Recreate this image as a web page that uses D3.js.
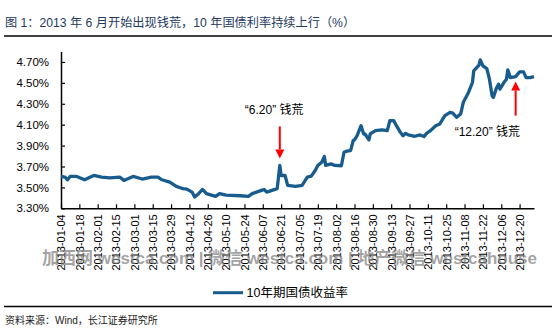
<!DOCTYPE html>
<html>
<head>
<meta charset="utf-8">
<script src="https://cdn.jsdelivr.net/npm/d3@7"></script>
<style>
  html, body { margin: 0; padding: 0; background: #fff; }
  svg { display: block; }
</style>
</head>
<body>
<svg id="chart" width="558" height="329"></svg>
<script>
// 10-year government bond yield, 2013 (%)
const dates = [
  "2013-01-04","2013-01-07","2013-01-09","2013-01-11","2013-01-16","2013-01-22","2013-01-29",
  "2013-02-04","2013-02-10","2013-02-18","2013-02-21","2013-02-28","2013-03-07","2013-03-14",
  "2013-03-19","2013-03-22","2013-03-28","2013-04-02","2013-04-05","2013-04-07","2013-04-10",
  "2013-04-14","2013-04-16","2013-04-19","2013-04-22","2013-04-25","2013-05-02","2013-05-05",
  "2013-05-10","2013-05-21","2013-05-27","2013-05-30","2013-06-06","2013-06-08","2013-06-10",
  "2013-06-18","2013-06-20","2013-06-21","2013-06-24","2013-06-26","2013-07-02","2013-07-07",
  "2013-07-11","2013-07-14","2013-07-17","2013-07-19","2013-07-22","2013-07-24","2013-07-25",
  "2013-07-29","2013-08-01","2013-08-06","2013-08-08","2013-08-10","2013-08-13","2013-08-15",
  "2013-08-16","2013-08-18","2013-08-21","2013-08-23","2013-08-24","2013-08-27","2013-08-28",
  "2013-09-01","2013-09-06","2013-09-10","2013-09-12","2013-09-15","2013-09-17","2013-09-20",
  "2013-09-22","2013-09-24","2013-09-26","2013-10-01","2013-10-05","2013-10-08","2013-10-10",
  "2013-10-13","2013-10-17","2013-10-20","2013-10-24","2013-10-28","2013-10-30","2013-11-02",
  "2013-11-05","2013-11-07","2013-11-11","2013-11-14","2013-11-15","2013-11-19","2013-11-20",
  "2013-11-22","2013-11-25","2013-11-27","2013-11-29","2013-11-30","2013-12-02","2013-12-04",
  "2013-12-05","2013-12-08","2013-12-10","2013-12-11","2013-12-13","2013-12-17","2013-12-20",
  "2013-12-23","2013-12-25","2013-12-28","2013-12-31"
];
const yields = [
  3.605,3.598,3.573,3.605,3.605,3.573,3.614,
  3.598,3.592,3.598,3.567,3.605,3.580,3.598,
  3.598,3.573,3.550,3.510,3.497,3.488,3.484,
  3.455,3.408,3.440,3.480,3.440,3.414,3.440,
  3.427,3.420,3.414,3.440,3.471,3.480,3.455,
  3.488,3.710,3.614,3.614,3.519,3.510,3.519,
  3.598,3.608,3.662,3.710,3.741,3.795,3.710,
  3.725,3.710,3.707,3.836,3.846,3.852,3.948,
  3.954,3.995,4.090,4.011,4.011,3.954,4.011,
  4.043,4.050,4.043,4.138,4.138,4.090,4.027,
  3.995,4.017,4.002,3.989,4.002,3.986,4.017,
  4.043,4.090,4.106,4.186,4.217,4.211,4.170,
  4.202,4.312,4.408,4.503,4.614,4.669,4.719,
  4.662,4.636,4.535,4.376,4.360,4.440,4.488,
  4.440,4.503,4.535,4.624,4.550,4.560,4.605,
  4.605,4.550,4.550,4.560
];
const xTickLabels = [
  "2013-01-04","2013-01-18","2013-02-01","2013-02-15","2013-03-01","2013-03-15","2013-03-29",
  "2013-04-12","2013-04-26","2013-05-10","2013-05-24","2013-06-07","2013-06-21","2013-07-05",
  "2013-07-19","2013-08-02","2013-08-16","2013-08-30","2013-09-13","2013-09-27","2013-10-11",
  "2013-10-25","2013-11-08","2013-11-22","2013-12-06","2013-12-20"
];
const yTicks = [3.3, 3.5, 3.7, 3.9, 4.1, 4.3, 4.5, 4.7];
const seriesName = "10年期国债收益率";
const noteDates = ["2013-06-20", "2013-12-17"];
const noteLabels = ["“6.20”  钱荒", "“12.20”  钱荒"];

const parse = d3.timeParse("%Y-%m-%d");
const data = dates.map((d, i) => ({ date: parse(d), value: yields[i] }));

const svg = d3.select("#chart");
const latin = "'Liberation Sans', Arial, sans-serif";
const cjk = "'Liberation Sans', 'Noto Sans CJK SC', sans-serif";

const x = d3.scaleTime()
  .domain([parse("2013-01-04"), parse("2013-12-31")])
  .range([61, 534]);
const y = d3.scaleLinear().domain([3.3, 4.8]).range([208.3, 51.5]);

// heading and rules
svg.append("text")
  .attr("x", 5).attr("y", 26.5)
  .attr("font-family", cjk).attr("font-size", 12.2)
  .attr("fill", "#243a5e")
  .text("图 1：2013 年 6 月开始出现钱荒，10 年国债利率持续上行（%）");
svg.append("line").attr("x1", 4).attr("x2", 552).attr("y1", 36).attr("y2", 36)
  .attr("stroke", "#000").attr("stroke-width", 1.6);
svg.append("line").attr("x1", 4).attr("x2", 552).attr("y1", 306.5).attr("y2", 306.5)
  .attr("stroke", "#000").attr("stroke-width", 1.3);
svg.append("text")
  .attr("x", 5).attr("y", 324)
  .attr("font-family", cjk).attr("font-size", 10)
  .attr("fill", "#222")
  .text("资料来源：Wind，长江证券研究所");

// y axis
const yAxis = svg.append("g")
  .attr("transform", "translate(61,0)")
  .call(d3.axisLeft(y).tickValues(yTicks).tickSize(-4).tickSizeOuter(0).tickPadding(12)
    .tickFormat(d => d.toFixed(2) + "%"));
yAxis.select(".domain").attr("stroke", "#000").attr("stroke-width", 1.5);
yAxis.selectAll(".tick line").attr("stroke", "#000").attr("stroke-width", 1.2);
yAxis.selectAll("text").attr("font-family", latin).attr("font-size", 11.5).attr("fill", "#000");

// x axis
const xAxis = svg.append("g")
  .attr("transform", `translate(0,${y(3.3)})`)
  .call(d3.axisBottom(x).tickValues(xTickLabels.map(parse)).tickSize(-4).tickSizeOuter(0)
    .tickFormat(d3.timeFormat("%Y-%m-%d")));
xAxis.select(".domain").attr("stroke", "#000").attr("stroke-width", 1.5);
xAxis.selectAll(".tick line").attr("stroke", "#000").attr("stroke-width", 1.2);
xAxis.selectAll("text")
  .attr("font-family", latin).attr("font-size", 11).attr("fill", "#000")
  .attr("transform", "rotate(-90)")
  .attr("text-anchor", "end")
  .attr("x", -6).attr("y", 0).attr("dy", "0.35em");

// yield line
svg.append("path")
  .datum(data)
  .attr("fill", "none")
  .attr("stroke", "#175c8c")
  .attr("stroke-width", 3.3)
  .attr("stroke-linejoin", "round")
  .attr("d", d3.line().x(d => x(d.date)).y(d => y(d.value)));

// annotations
const red = "#ff0000";
function arrow(xp, yTail, yTip) {
  const dir = yTip > yTail ? 1 : -1;
  const headLen = 9, headHalf = 4.5;
  svg.append("line")
    .attr("x1", xp).attr("x2", xp)
    .attr("y1", yTail).attr("y2", yTip - dir * headLen)
    .attr("stroke", red).attr("stroke-width", 2);
  svg.append("path")
    .attr("d", `M${xp - headHalf},${yTip - dir * headLen}L${xp + headHalf},${yTip - dir * headLen}L${xp},${yTip}Z`)
    .attr("fill", red);
}
const spike = data.find(d => +d.date === +parse(noteDates[0]));
const ax1 = x(parse(noteDates[0]));
arrow(ax1, y(spike.value) - 39, y(spike.value) - 7);
svg.append("text")
  .attr("x", ax1 - 35).attr("y", y(spike.value) - 51)
  .attr("font-family", cjk).attr("font-size", 12).attr("fill", "#000")
  .text(noteLabels[0]);

const near = data.find(d => +d.date === +parse(noteDates[1]));
const ax2 = x(parse(noteDates[1]));
arrow(ax2, y(near.value) + 39, y(near.value) + 5);
svg.append("text")
  .attr("x", ax2 - 61).attr("y", y(near.value) + 59)
  .attr("font-family", cjk).attr("font-size", 12).attr("fill", "#000")
  .text(noteLabels[1]);

// legend
svg.append("line").attr("x1", 213).attr("x2", 243).attr("y1", 292.7).attr("y2", 292.7)
  .attr("stroke", "#175c8c").attr("stroke-width", 3);
svg.append("text")
  .attr("x", 246.5).attr("y", 297.2)
  .attr("font-family", cjk).attr("font-size", 12.5).attr("fill", "#000")
  .text(seriesName);

// site watermark overlay
svg.append("text")
  .attr("x", 42).attr("y", 264)
  .attr("font-family", cjk).attr("font-size", 17).attr("font-weight", "bold")
  .attr("textLength", 495).attr("lengthAdjust", "spacingAndGlyphs")
  .attr("fill", "#808080").attr("fill-opacity", 0.72)
  .text("加西网 westca.com | 微信 westca.com | 地产微信 westcahouse");
</script>
</body>
</html>
